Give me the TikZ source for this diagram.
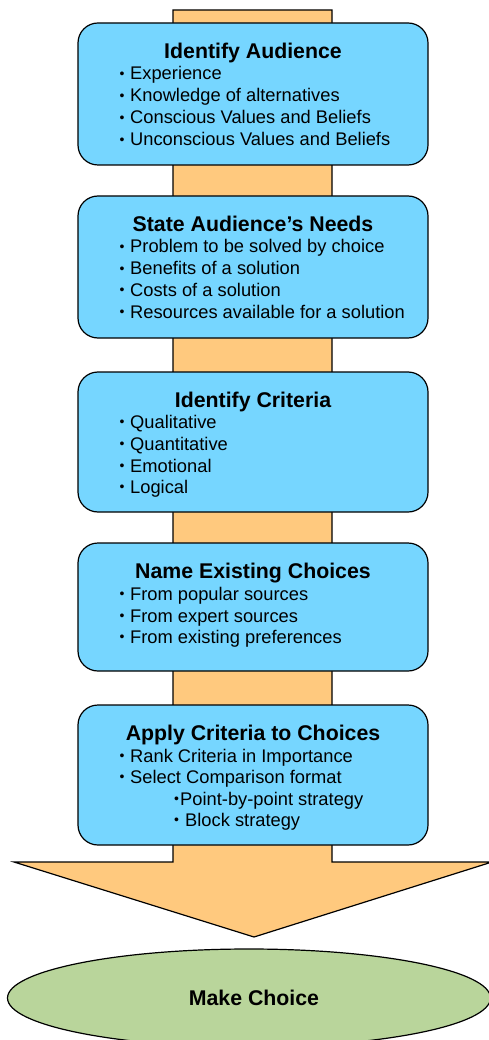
\documentclass[tikz,border=0pt]{standalone}
\usepackage{fontspec}
\setmainfont{Liberation Sans}
\usetikzlibrary{shapes.geometric}
\definecolor{boxblue}{HTML}{76D6FF}
\definecolor{shaftorange}{HTML}{FFC97E}
\definecolor{choicegreen}{HTML}{B9D59B}
\newcommand{\smbul}{\raisebox{1.2pt}{\fontsize{14}{14}\selectfont •}}
\tikzset{
  stepbox/.style={draw=black, line width=1.2pt, fill=boxblue, rounded corners=20pt,
    minimum width=350pt, inner sep=0pt},
  ttl/.style={anchor=base, inner sep=0pt, font=\fontsize{21.3}{24}\selectfont\bfseries},
  itm/.style={anchor=base west, inner sep=0pt, font=\fontsize{18.3}{22}\selectfont},
}
\begin{document}
\begin{tikzpicture}[x=1pt,y=-1pt]
\useasboundingbox (0,0) rectangle (489,1040);
% big arrow
\draw[line width=1.2pt, fill=shaftorange, line join=miter]
  (173,10) -- (332,10) -- (332,862) -- (492,862) -- (254,937) -- (14,862) -- (173,862) -- cycle;
% boxes
\node[stepbox, minimum height=142pt] (box1) at (253,94) {};
\node[stepbox, minimum height=142pt] (box2) at (253,267) {};
\node[stepbox, minimum height=140pt] (box3) at (253,442) {};
\node[stepbox, minimum height=128pt] (box4) at (253,607) {};
\node[stepbox, minimum height=140pt] (box5) at (253,775) {};
% box 1
\node[ttl] (t1) at (253,59) {Identify Audience};
\node[itm] (b1a) at (119.5,80) {\smbul};  \node[itm] (i1a) at (130,80) {Experience};
\node[itm] (b1b) at (119.5,102) {\smbul}; \node[itm] (i1b) at (130,102) {Knowledge of alternatives};
\node[itm] (b1c) at (119.5,124) {\smbul}; \node[itm] (i1c) at (130,124) {Conscious Values and Beliefs};
\node[itm] (b1d) at (119.5,146) {\smbul}; \node[itm] (i1d) at (130,146) {Unconscious Values and Beliefs};
% box 2
\node[ttl] (t2) at (253,232) {State Audience’s Needs};
\node[itm] (b2a) at (119.5,253) {\smbul}; \node[itm] (i2a) at (130,253) {Problem to be solved by choice};
\node[itm] (b2b) at (119.5,275) {\smbul}; \node[itm] (i2b) at (130,275) {Benefits of a solution};
\node[itm] (b2c) at (119.5,296) {\smbul}; \node[itm] (i2c) at (130,296) {Costs of a solution};
\node[itm] (b2d) at (119.5,318) {\smbul}; \node[itm] (i2d) at (130,318) {Resources available for a solution};
% box 3
\node[ttl] (t3) at (253,407) {Identify Criteria};
\node[itm] (b3a) at (119.5,428) {\smbul}; \node[itm] (i3a) at (130,428) {Qualitative};
\node[itm] (b3b) at (119.5,450) {\smbul}; \node[itm] (i3b) at (130,450) {Quantitative};
\node[itm] (b3c) at (119.5,472) {\smbul}; \node[itm] (i3c) at (130,472) {Emotional};
\node[itm] (b3d) at (119.5,493) {\smbul}; \node[itm] (i3d) at (130,493) {Logical};
% box 4
\node[ttl] (t4) at (253,578) {Name Existing Choices};
\node[itm] (b4a) at (119.5,600) {\smbul}; \node[itm] (i4a) at (130,600) {From popular sources};
\node[itm] (b4b) at (119.5,622) {\smbul}; \node[itm] (i4b) at (130,622) {From expert sources};
\node[itm] (b4c) at (119.5,643) {\smbul}; \node[itm] (i4c) at (130,643) {From existing preferences};
% box 5
\node[ttl] (t5) at (253,740) {Apply Criteria to Choices};
\node[itm] (b5a) at (119.5,762) {\smbul}; \node[itm] (i5a) at (130,762) {Rank Criteria in Importance};
\node[itm] (b5b) at (119.5,783) {\smbul}; \node[itm] (i5b) at (130,783) {Select Comparison format};
\node[itm] (b5c) at (174,805) {\smbul}; \node[itm] (i5c) at (180,805) {Point-by-point strategy};
\node[itm] (b5d) at (174,826) {\smbul}; \node[itm] (i5d) at (185,826) {Block strategy};
% final ellipse
\node[ellipse, draw=black, line width=1.2pt, fill=choicegreen, minimum width=483pt,
  minimum height=98pt, inner sep=0pt] (ell) at (249,998) {};
\node[ttl] (mc) at (254,1005) {Make Choice};
\end{tikzpicture}
\end{document}
